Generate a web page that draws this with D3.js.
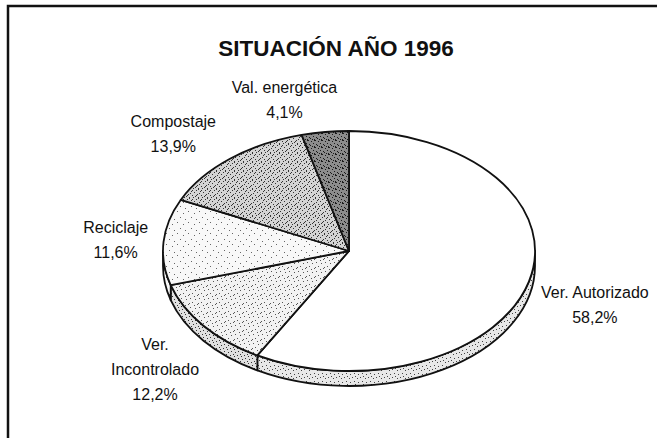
<!DOCTYPE html>
<html><head><meta charset="utf-8">
<script src="https://cdn.jsdelivr.net/npm/d3@7"></script>
<style>
body{margin:0;background:#fff}
svg{display:block}
text{font-family:"Liberation Sans",Arial,sans-serif;fill:#111}
</style>
</head><body>
<svg id="c" width="657" height="438"></svg>
<script>
const title = "SITUACIÓN AÑO 1996";
const categories = ["Ver. Autorizado", "Ver. Incontrolado", "Reciclaje", "Compostaje", "Val. energética"];
const labelLines = [["Ver. Autorizado"], ["Ver.", "Incontrolado"], ["Reciclaje"], ["Compostaje"], ["Val. energética"]];
const values = [58.2, 12.2, 11.6, 13.9, 4.1];
const fills = ["#ffffff", "url(#pInc)", "url(#pRec)", "url(#pCom)", "url(#pVal)"];
const rimFills = ["url(#pRimA)", "url(#pRimI)", "url(#pRec)", "url(#pCom)", "url(#pVal)"];

const W = 657, H = 438;
const cx = 349, cy = 251, rx = 186, ry = 120, depth = 15;
const svg = d3.select("#c");

// stipple patterns
const defs = svg.append("defs");
function dots(id, size, bg, pts, col) {
  const p = defs.append("pattern").attr("id", id).attr("patternUnits", "userSpaceOnUse")
    .attr("width", size).attr("height", size);
  p.append("rect").attr("width", size).attr("height", size).attr("fill", bg);
  pts.forEach(q => p.append("rect").attr("x", q[0]).attr("y", q[1]).attr("width", 1).attr("height", 1).attr("fill", col));
}
dots("pInc", 9, "#f2f2f2", [[1,1],[6,2],[3,5],[8,7],[0,6],[5,8]], "#555");
dots("pRec", 11, "#f8f8f8", [[1,2],[7,4],[4,8],[9,10]], "#666");
dots("pCom", 9, "#d4d4d4", [[0,0],[3,1],[7,1],[5,3],[1,4],[8,5],[3,6],[6,7],[0,8],[4,8],[2,2],[7,6]], "#333");
dots("pVal", 7, "#8c8c8c", [[0,0],[3,1],[5,3],[1,4],[6,6],[2,5],[4,6],[6,0]], "#1a1a1a");
dots("pRimA", 8, "#e8e8e8", [[0,1],[5,2],[2,5],[6,6],[3,0]], "#444");
dots("pRimI", 7, "#e0e0e0", [[0,1],[4,2],[2,4],[6,5],[3,6]], "#333");

// frame
svg.append("path").attr("d", `M8,${H} L8,6 L${W},6`).attr("fill", "none")
  .attr("stroke", "#111").attr("stroke-width", 2.5);

// title
svg.append("text").attr("x", 336).attr("y", 56).attr("text-anchor", "middle")
  .attr("font-size", 22.5).attr("font-weight", "bold").text(title);

// scales
const sx = d3.scaleLinear().domain([-1, 1]).range([cx - rx, cx + rx]);
const sy = d3.scaleLinear().domain([-1, 1]).range([cy + ry, cy - ry]);
const pt = (a, dy = 0) => [sx(Math.sin(a)), sy(Math.cos(a)) + dy];
const fmt = p => p.map(v => v.toFixed(2)).join(",");

const pie = d3.pie().sort(null).startAngle(0).endAngle(2 * Math.PI);
const arcs = pie(values);

// rim (front half)
const gRim = svg.append("g");
arcs.forEach((d, i) => {
  const s = Math.max(d.startAngle, Math.PI / 2), e = Math.min(d.endAngle, 3 * Math.PI / 2);
  if (e <= s) return;
  const large = (e - s) > Math.PI ? 1 : 0;
  const path = `M${fmt(pt(s))} A${rx},${ry} 0 ${large} 1 ${fmt(pt(e))} L${fmt(pt(e, depth))} A${rx},${ry} 0 ${large} 0 ${fmt(pt(s, depth))} Z`;
  gRim.append("path").attr("d", path).attr("fill", rimFills[i])
    .attr("stroke", "#111").attr("stroke-width", 1.8).attr("stroke-linejoin", "round");
});

// top face
const gTop = svg.append("g");
arcs.forEach((d, i) => {
  const large = (d.endAngle - d.startAngle) > Math.PI ? 1 : 0;
  const path = `M${cx},${cy} L${fmt(pt(d.startAngle))} A${rx},${ry} 0 ${large} 1 ${fmt(pt(d.endAngle))} Z`;
  gTop.append("path").attr("d", path).attr("fill", fills[i])
    .attr("stroke", "#111").attr("stroke-width", 1.8).attr("stroke-linejoin", "round");
});

// labels: box placed just outside the rim along the slice's mid angle
const gap = 14, lh = 25;
const gLab = svg.append("g");
arcs.forEach((d, i) => {
  const lines = labelLines[i].concat([values[i].toFixed(1).replace(".", ",") + "%"]);
  const g = gLab.append("g");
  const ts = lines.map(l => g.append("text").attr("text-anchor", "middle").attr("font-size", 16).text(l));
  const w = d3.max(ts, t => t.node().getComputedTextLength());
  const h = (lines.length - 1) * lh + 12;
  const m = (d.startAngle + d.endAngle) / 2;
  const s = Math.sin(m), c = Math.cos(m);
  const edge = pt(m, c < 0 ? depth : 0);
  const gx = c > 0 ? gap + 20 * c : gap;
  const bx = edge[0] + s * (w / 2) + Math.sign(s) * gx;
  const by = edge[1] - c * (h / 2 + gap);
  ts.forEach((t, k) => t.attr("x", bx).attr("y", by - (lines.length - 1) * lh / 2 + k * lh + 6));
});
</script>
</body></html>
